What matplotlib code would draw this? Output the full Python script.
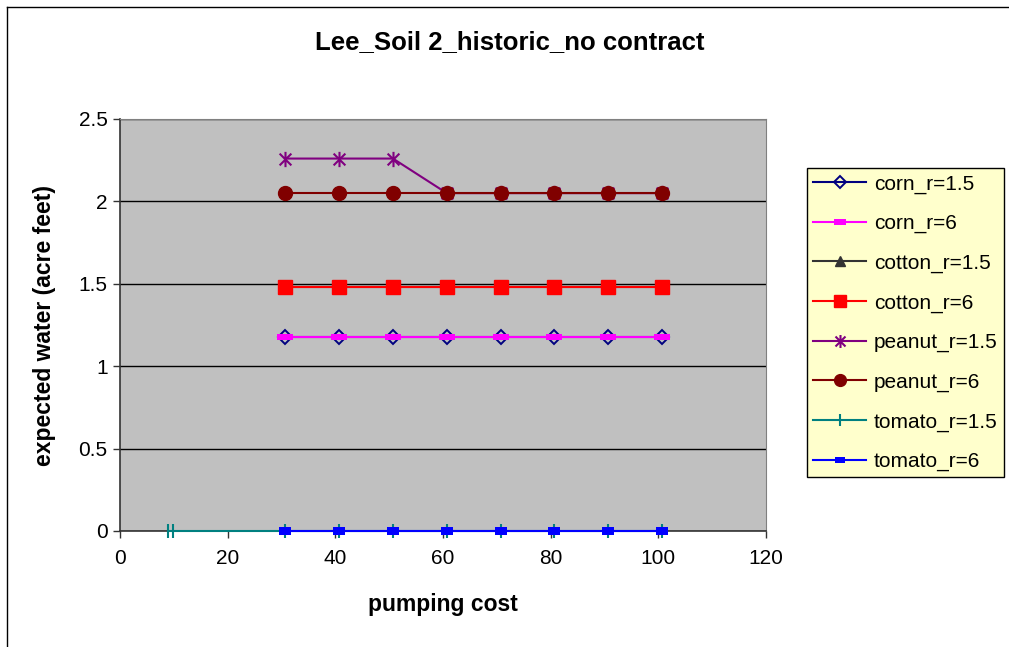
import numpy as np
import matplotlib
matplotlib.use("Agg")
import matplotlib.pyplot as plt
from matplotlib.lines import Line2D
from matplotlib.path import Path

plt.rcParams["font.family"] = ["Liberation Sans", "DejaVu Sans"]

# data
cost = [30.7, 40.7, 50.7, 60.7, 70.7, 80.7, 90.7, 100.7]
tomato_cost = [9.0, 9.9] + cost

corn_r15 = [1.18] * 8
corn_r6 = [1.18] * 8
cotton_r15 = [1.48] * 8
cotton_r6 = [1.48] * 8
peanut_r15 = [2.26, 2.26, 2.26, 2.05, 2.05, 2.05, 2.05, 2.05]
peanut_r6 = [2.05] * 8
tomato_r15 = [0.0] * 10
tomato_r6 = [0.0] * 8

# excel-like markers
M, L = Path.MOVETO, Path.LINETO
star = Path([(-1, -1), (1, 1), (-1, 1), (1, -1), (0, -1.3), (0, 1.3)],
            [M, L, M, L, M, L])
dash = Path([(-1, -0.45), (1, -0.45), (1, 0.45), (-1, 0.45), (-1, -0.45)],
            [M, L, L, L, Path.CLOSEPOLY])
dash_t = Path([(-1, -0.65), (1, -0.65), (1, 0.65), (-1, 0.65), (-1, -0.65)],
              [M, L, L, L, Path.CLOSEPOLY])

fig = plt.figure(figsize=(10.09, 6.47), dpi=100)
fig.lines.append(Line2D([7 / 1009, 7 / 1009], [0, 1 - 7 / 647],
                        transform=fig.transFigure, color="black", lw=1.0))
fig.lines.append(Line2D([7 / 1009, 1], [1 - 7 / 647, 1 - 7 / 647],
                        transform=fig.transFigure, color="black", lw=1.0))

ax = fig.add_axes([120 / 1009, 1 - 531 / 647, 646 / 1009, 412 / 647])
ax.set_facecolor("#C0C0C0")

kw = dict(lw=1.5, clip_on=False, zorder=3)
ax.plot(cost, corn_r15, color="#000080", marker="D", mfc="none", mec="#000080",
        ms=7, mew=1.4, label="corn_r=1.5", **kw)
ax.plot(cost, corn_r6, color="#FF00FF", marker=dash, ms=11, mew=0,
        label="corn_r=6", **kw)
ax.plot(cost, cotton_r15, color="#333333", marker="^", ms=9,
        label="cotton_r=1.5", **kw)
ax.plot(cost, cotton_r6, color="#FF0000", marker="s", ms=10,
        label="cotton_r=6", **kw)
ax.plot(cost, peanut_r15, color="#800080", marker=star, ms=11, mew=1.5,
        label="peanut_r=1.5", **kw)
ax.plot(cost, peanut_r6, color="#800000", marker="o", ms=10,
        label="peanut_r=6", **kw)
ax.plot(tomato_cost, tomato_r15, color="#008080", marker="|", ms=10, mew=1.5,
        label="tomato_r=1.5", **kw)
ax.plot(cost, tomato_r6, color="#0000FF", marker=dash_t, ms=8, mew=0,
        label="tomato_r=6", lw=1.5, clip_on=False, zorder=4)

ax.set_xlim(0, 120)
ax.set_ylim(0, 2.5)
ax.set_xticks(np.arange(0, 121, 20))
ax.set_yticks([0, 0.5, 1, 1.5, 2, 2.5])
ax.set_yticklabels(["0", "0.5", "1", "1.5", "2", "2.5"])
ax.yaxis.grid(True, color="black", lw=1.0)
ax.set_axisbelow(True)
ax.tick_params(direction="out", length=5, width=1, labelsize=15,
               color="#333333")
ax.tick_params(axis="x", pad=8)
ax.tick_params(axis="y", pad=4)
for s in ["top", "right"]:
    ax.spines[s].set_color("#808080")
for s in ["left", "bottom"]:
    ax.spines[s].set_color("#333333")
    ax.spines[s].set_linewidth(1.2)

ax.set_xlabel("pumping cost", fontsize=16.5, fontweight="bold", labelpad=18)
ax.set_ylabel("expected water (acre feet)", fontsize=16.5, fontweight="bold",
              labelpad=16)
fig.text(0.505, 1 - 42 / 647, "Lee_Soil 2_historic_no contract", ha="center",
         va="center", fontsize=18.5, fontweight="bold")

leg = ax.legend(loc="upper left", bbox_to_anchor=(807 / 1009, 1 - 168 / 647),
                bbox_transform=fig.transFigure, fontsize=15, frameon=True,
                fancybox=False, edgecolor="black", facecolor="#FFFFCC",
                framealpha=1, handlelength=2.55, labelspacing=0.98,
                borderpad=0.3, handletextpad=0.35, borderaxespad=0,
                markerscale=0.85)
leg.get_frame().set_linewidth(1.0)

fig.savefig("out.png", dpi=100)
